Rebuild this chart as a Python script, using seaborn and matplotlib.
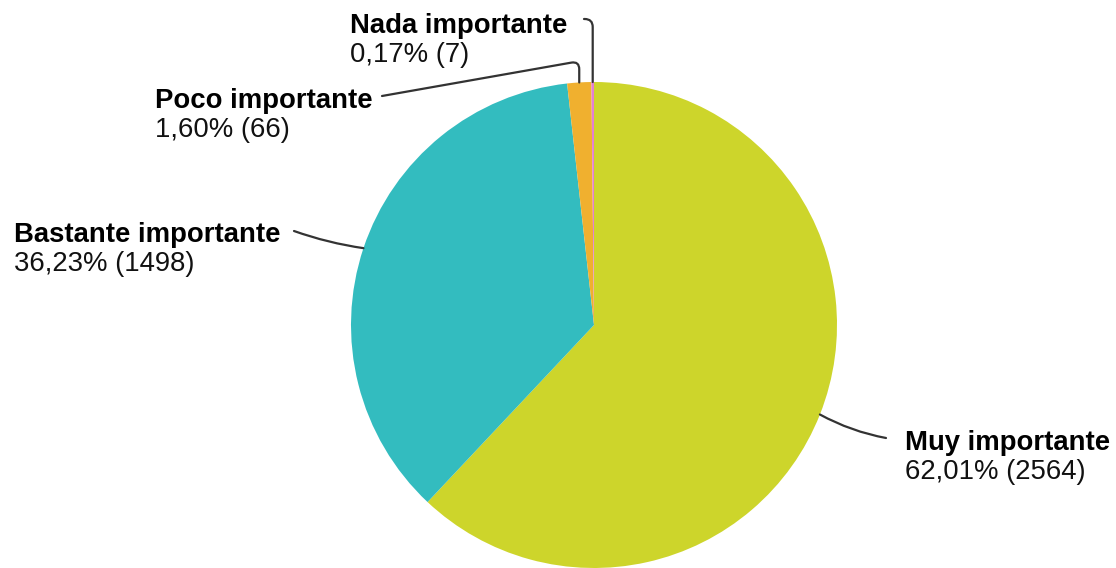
import matplotlib
matplotlib.use("Agg")
import matplotlib.pyplot as plt
import numpy as np
import seaborn as sns

# data
categories = ["Muy importante", "Bastante importante", "Poco importante", "Nada importante"]
percentages = [62.01, 36.23, 1.60, 0.17]
counts = [2564, 1498, 66, 7]
colors = ["#CDD52B", "#33BCBF", "#F0B02F", "#E37FD4"]

W, H = 1116, 568
CX, CY, R = 594, 325, 243  # pie centre / radius in pixels (y from top)

sns.set_theme(style="white")
plt.rcParams["font.family"] = ["Liberation Sans", "DejaVu Sans"]

fig = plt.figure(figsize=(W / 100, H / 100), dpi=100)
ax = fig.add_axes([0, 0, 1, 1])

wedges, _ = ax.pie(
    counts,
    colors=colors,
    startangle=90,
    counterclock=False,
    center=(CX, H - CY),
    radius=R,
    wedgeprops={"linewidth": 0},
)
ax.set_xlim(0, W)
ax.set_ylim(0, H)
ax.set_aspect("equal")
ax.axis("off")


def py(y):
    # pixel row (from top) to data y
    return H - y


# label layout: text left x, name baseline y, connector start, connection style
layout = {
    "Muy importante": (905, 450, (886, 438), "arc3,rad=-0.08"),
    "Bastante importante": (14, 242, (294, 231), "arc3,rad=0.05"),
    "Poco importante": (155, 108, (382, 96), "angle,angleA=10,angleB=90,rad=8"),
    "Nada importante": (350, 33, (584, 19), "angle,angleA=0,angleB=90,rad=8"),
}

for wedge, name, pct, n in zip(wedges, categories, percentages, counts):
    tx, ty, (sx, sy), cstyle = layout[name]
    mid = np.deg2rad((wedge.theta1 + wedge.theta2) / 2)
    ax_x = CX + R * np.cos(mid)
    ax_y = (H - CY) + R * np.sin(mid)
    ax.text(tx, py(ty), name, fontsize=19.8, fontweight="bold", color="#000000",
            ha="left", va="baseline")
    ax.text(tx, py(ty + 29), f"{pct:.2f}".replace(".", ",") + f"% ({n})",
            fontsize=19.8, color="#111111", ha="left", va="baseline")
    ax.annotate(
        "",
        xy=(ax_x, ax_y),
        xytext=(sx, py(sy)),
        arrowprops={"arrowstyle": "-", "color": "#333333", "lw": 1.6,
                    "connectionstyle": cstyle, "shrinkA": 0, "shrinkB": 0},
    )

fig.savefig("out.png", dpi=100)
